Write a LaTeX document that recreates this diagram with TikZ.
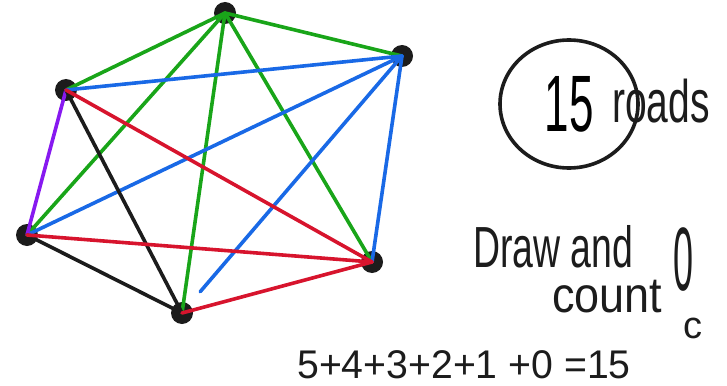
\documentclass[tikz,border=0pt]{standalone}
\usepackage{fontspec}
\setmainfont{Liberation Sans}
\usetikzlibrary{shapes.geometric}
\definecolor{roadgreen}{RGB}{25,165,25}
\definecolor{roadblue}{RGB}{25,105,230}
\definecolor{roadred}{RGB}{215,20,45}
\definecolor{roadpurple}{RGB}{135,25,240}
\definecolor{ink}{RGB}{28,28,28}
\tikzset{
  town/.style={circle, fill=ink, minimum size=22pt, inner sep=0pt},
  road/.style={line width=3.6pt, line cap=round},
  scribble/.style={inner sep=0pt, text=ink},
  ring/.style={ellipse, draw=ink, line width=3.6pt, inner sep=0pt},
}
\newcommand{\narrow}[2]{\scalebox{#1}[1]{#2}}
\newcommand{\hand}[1]{\fontsize{#1}{#1}\selectfont}

\begin{document}
\begin{tikzpicture}[x=1pt, y=-1pt]
    \useasboundingbox (0,0) rectangle (727,385);

    % Six towns
    \node[town] (town_top) at (225,13) {};
    \node[town] (town_right) at (402,56) {};
    \node[town] (town_left) at (66,90) {};
    \node[town] (town_lowleft) at (27,235) {};
    \node[town] (town_lowright) at (372,262) {};
    \node[town] (town_bottom) at (182,313) {};

    % Roads from the top town (green)
    \draw[road, roadgreen] (town_top.center) -- (town_right.center);
    \draw[road, roadgreen] (town_top.center) -- (town_left.center);
    \draw[road, roadgreen] (town_top.center) -- (town_lowleft.center);
    \draw[road, roadgreen] (town_top.center) -- (town_bottom.center);
    \draw[road, roadgreen] (town_top.center) -- (town_lowright.center);

    % Roads from the right town (blue)
    \draw[road, roadblue] (town_right.center) -- (town_left.center);
    \draw[road, roadblue] (town_right.center) -- (town_lowleft.center);
    \draw[road, roadblue, shorten >=28pt] (town_right.center) -- (town_bottom.center);
    \draw[road, roadblue] (town_right.center) -- (town_lowright.center);

    % Remaining roads
    \draw[road, roadpurple] (town_left.center) -- (town_lowleft.center);
    \draw[road, ink] (town_left.center) -- (town_bottom.center);
    \draw[road, roadred] (town_left.center) -- (town_lowright.center);
    \draw[road, ink] (town_lowleft.center) -- (town_bottom.center);
    \draw[road, roadred] (town_lowleft.center) -- (town_lowright.center);
    \draw[road, roadred] (town_bottom.center) -- (town_lowright.center);

    % Notes on the right
    \node[ring, minimum width=138pt, minimum height=128pt] (roads_ring) at (569,104)
      {\hand{80}\narrow{0.55}{15}};
    \node[scribble, anchor=base west] (roads_word) at (612,122) {\hand{60}\narrow{0.65}{roads}};
    \node[scribble, anchor=base west] (draw_word) at (473,267) {\hand{58}\narrow{0.645}{Draw and}};
    \node[scribble, anchor=base west] (count_word) at (552,312) {\hand{50}\narrow{0.9}{count}};
    \node[scribble] (zero_mark) at (683,260) {\hand{90}\narrow{0.4}{0}};
    \node[scribble, anchor=base west] (c_mark) at (683,338) {\hand{38}c};

    % Sum along the bottom
    \node[scribble, anchor=base] (sum_line) at (464,378) {\hand{40}\narrow{0.98}{5+4+3+2+1 +0 =15}};
\end{tikzpicture}
\end{document}
